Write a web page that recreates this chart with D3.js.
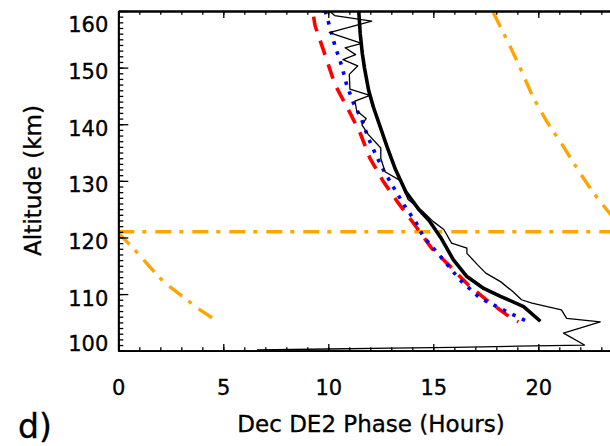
<!DOCTYPE html>
<html>
<head>
<meta charset="utf-8">
<script src="https://cdn.jsdelivr.net/npm/d3@7"></script>
<style>
  body { margin: 0; background: #fff; }
  svg { display: block; font-family: "DejaVu Sans", sans-serif; }
  .axis path, .axis line { stroke: #000; }
  .axis path { stroke-width: 1.8; }
  .axis line { stroke-width: 1.3; }
  .axis text { font-size: 21px; fill: #000; font-family: "DejaVu Sans", sans-serif; stroke: #000; stroke-width: 0.35; }
  .title { font-size: 23px; fill: #000; stroke: #000; stroke-width: 0.35; }
</style>
</head>
<body>
<svg id="chart" width="610" height="446">
  <defs>
    <clipPath id="plot_clip"><rect></rect></clipPath>
  </defs>
  <g id="lines"></g>
  <g id="x_axis" class="axis"></g>
  <g id="x_minor" class="axis"></g>
  <g id="top_axis" class="axis"></g>
  <g id="top_minor" class="axis"></g>
  <g id="y_axis" class="axis"></g>
  <g id="y_minor" class="axis"></g>
</svg>
<script>
// axis ticks
let x_ticks = [0, 5, 10, 15, 20]
let y_ticks = [100, 110, 120, 130, 140, 150, 160]

// [phase (hours), altitude (km)]
let model_thick = [
  [11.45, 160], [11.52, 156], [11.62, 152.5], [11.72, 150], [11.92, 146],
  [12.15, 143], [12.4, 140.3], [12.8, 136], [13.2, 132], [13.7, 128],
  [14.3, 125], [14.8, 123], [15.35, 120], [15.95, 116.1], [16.6, 113.1],
  [17.4, 111], [18.2, 109.6], [19.3, 107.8], [20.1, 105.2]
]
let observed = [
  [10.0, 160.2], [10.3, 159.2], [12.07, 158.2], [10.05, 156.2], [11.59, 154.3],
  [10.8, 153.5], [11.3, 152.3], [10.7, 151.4], [11.4, 150.3], [11.0, 148.8],
  [11.03, 146.2], [11.98, 145.1], [11.27, 144.1], [11.35, 142.4], [11.8, 141.0],
  [11.6, 139.9], [11.9, 138.2], [12.5, 135.8], [12.5, 134.0], [12.7, 131.6],
  [13.45, 130], [13.65, 128], [13.8, 126.7], [14.5, 124.6], [15.0, 122.8],
  [15.5, 121.4], [15.87, 119], [16.6, 118.1], [16.6, 117.2], [17.1, 115.2],
  [17.5, 113.7], [18.2, 112.2], [18.8, 110.4], [19.2, 109.0], [19.7, 108.4],
  [21.1, 107.2], [21.35, 105.7], [22.95, 105.1], [21.2, 103.1], [22.2, 101.0],
  [19.0, 100.8], [16.0, 100.6], [13.0, 100.45], [10.0, 100.3], [6.6, 100.15]
]
let red_dashed = [
  [9.3, 159], [9.37, 157.4], [9.84, 152.3], [10.32, 147], [10.95, 142.6],
  [11.51, 138.5], [11.98, 134], [12.62, 129.9], [13.33, 126.1], [14.1, 122.3],
  [14.92, 118.1], [15.8, 114.9], [16.67, 111.6], [17.62, 108.7], [18.73, 105.7],
  [19.05, 105.1]
]
let blue_dotted = [
  [9.85, 160], [10.08, 157.1], [10.32, 153.8], [10.64, 150.3], [10.87, 147],
  [11.19, 143.8], [11.59, 140.8], [11.9, 137.6], [12.3, 134.3], [12.7, 131.4],
  [13.18, 128.4], [13.65, 125.5], [14.2, 122.5], [14.52, 120.2], [15.4, 116.4],
  [16.27, 112.5], [17.22, 109.3], [18.5, 106.9], [19.52, 105.1]
]
let orange_upper = [
  [17.86, 159.7], [18.17, 157.4], [18.65, 153.8], [19.13, 150], [19.76, 144.7],
  [20.4, 140.5], [21.19, 136.1], [21.98, 131.4], [22.62, 127.9], [23.26, 124.9],
  [23.5, 123.8]
]
let orange_lower = [
  [0, 120.8], [0.71, 118.1], [1.19, 116.1], [2.14, 112.2], [3.26, 109],
  [3.89, 107.2], [4.76, 105.1]
]
let orange_level = [[0, 121.0], [24, 121.0]]

let margin = {top: 11, left: 118.3, bottom: 350.7}

function make_scales() {
  return {
    x: d3.scaleLinear().domain([0, 24]).range([margin.left, margin.left + 24 * 21]),
    y: d3.scaleLinear().domain([100, 160]).range([margin.bottom, margin.top])
  }
}

function draw_axes(scales) {
  let bottom = margin.bottom
  d3.select("#x_axis")
    .attr("transform", `translate(0, ${bottom})`)
    .call(d3.axisBottom(scales.x).tickValues(x_ticks).tickSize(-6.7).tickSizeOuter(0))
    .selectAll("text").attr("dy", null).attr("y", 44.5)
  d3.select("#x_minor")
    .attr("transform", `translate(0, ${bottom})`)
    .call(d3.axisBottom(scales.x).tickValues(d3.range(0, 25)).tickSize(-3.4).tickSizeOuter(0).tickFormat(""))
  d3.select("#top_axis")
    .attr("transform", `translate(0, ${margin.top})`)
    .call(d3.axisTop(scales.x).tickValues(x_ticks).tickSize(-7).tickSizeOuter(0).tickFormat(""))
  d3.select("#top_minor")
    .attr("transform", `translate(0, ${margin.top})`)
    .call(d3.axisTop(scales.x).tickValues(d3.range(0, 25)).tickSize(-3.8).tickSizeOuter(0).tickFormat(""))

  // end labels sit inside the axis span, as in the original
  d3.select("#y_axis")
    .attr("transform", `translate(${margin.left}, 0)`)
    .call(d3.axisLeft(scales.y).tickValues(y_ticks).tickSize(-10).tickPadding(10).tickSizeOuter(0))
    .selectAll("text")
    .attr("dy", null)
    .attr("y", d => d == 160 ? 20.5 : d == 100 ? -0.7 : 11)
  d3.select("#y_minor")
    .attr("transform", `translate(${margin.left}, 0)`)
    .call(d3.axisLeft(scales.y).tickValues(d3.range(100, 161)).tickSize(-5).tickSizeOuter(0).tickFormat(""))

  let svg = d3.select("#chart")
  svg.append("text").attr("class", "title")
    .attr("text-anchor", "middle")
    .attr("transform", "translate(41, 180.5) rotate(-90)")
    .text("Altitude (km)")
  svg.append("text").attr("class", "title")
    .attr("text-anchor", "middle")
    .attr("x", 371).attr("y", 431.5)
    .text("Dec DE2 Phase (Hours)")
  svg.append("text").attr("class", "title")
    .attr("x", 18).attr("y", 438)
    .style("font-size", "33px")
    .text("d)")
}

function draw_lines(scales) {
  let path_generator = d3.line()
    .x(d => scales.x(d[0]))
    .y(d => scales.y(d[1]))

  let series = [
    {data: orange_level, color: "#ffa500", width: 3.4, dash: "16,8,4,9"},
    {data: orange_upper, color: "#ffa500", width: 3.4, dash: "16,8,4,9"},
    {data: orange_lower, color: "#ffa500", width: 3.4, dash: "16,8,4,9"},
    {data: red_dashed, color: "#ff0000", width: 3.6, dash: "15,10"},
    {data: blue_dotted, color: "#0000ff", width: 3.6, dash: "3.5,7"},
    {data: observed, color: "#000", width: 1.3, dash: null},
    {data: model_thick, color: "#000", width: 3.6, dash: null}
  ]

  d3.select("#plot_clip rect")
    .attr("x", margin.left).attr("y", margin.top)
    .attr("width", 24 * 21).attr("height", margin.bottom - margin.top)

  d3.select("#lines")
    .attr("clip-path", "url(#plot_clip)")
    .selectAll("path")
    .data(series).enter()
    .append("path")
    .attr("d", d => path_generator(d.data))
    .attr("fill", "none")
    .attr("stroke", d => d.color)
    .attr("stroke-width", d => d.width)
    .attr("stroke-dasharray", d => d.dash)
    .attr("stroke-linejoin", "round")
}

let scales = make_scales()
draw_lines(scales)
draw_axes(scales)
</script>
</body>
</html>
